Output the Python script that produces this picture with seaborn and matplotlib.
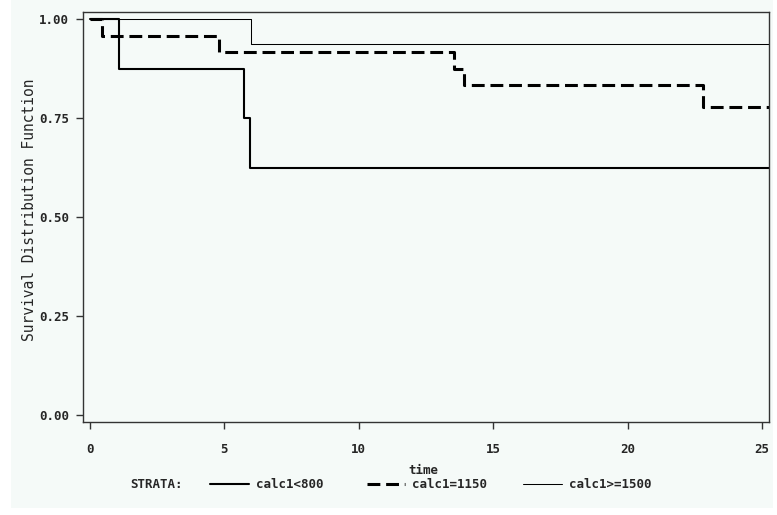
import numpy as np
import pandas as pd
import seaborn as sns
import matplotlib
matplotlib.use("Agg")
import matplotlib.pyplot as plt
from matplotlib.lines import Line2D
from matplotlib.patches import Rectangle

# ---- data (Kaplan-Meier step estimates) ----
strata = ["calc1<800", "calc1=1150", "calc1>=1500"]
time_800 = [0.0, 1.08, 5.73, 5.97, 25.3]
surv_800 = [1.0, 0.875, 0.75, 0.625, 0.625]
time_1150 = [0.0, 0.44, 4.79, 13.56, 13.9, 22.8, 25.3]
surv_1150 = [1.0, 0.958, 0.917, 0.875, 0.833, 0.777, 0.777]
time_1500 = [0.0, 6.0, 25.3]
surv_1500 = [1.0, 0.9375, 0.9375]
x_ticks = [0, 5, 10, 15, 20, 25]
y_ticks = [0.0, 0.25, 0.5, 0.75, 1.0]
y_ticklabels = ["0.00", "0.25", "0.50", "0.75", "1.00"]

df = pd.concat([
    pd.DataFrame({"time": time_800, "surv": surv_800, "STRATA": strata[0]}),
    pd.DataFrame({"time": time_1150, "surv": surv_1150, "STRATA": strata[1]}),
    pd.DataFrame({"time": time_1500, "surv": surv_1500, "STRATA": strata[2]}),
])

sns.set_style("ticks")
mono = "DejaVu Sans Mono"
plt.rcParams["font.family"] = [mono]

BG = "#f5faf8"
W, H = 777, 515
fig = plt.figure(figsize=(W / 100, H / 100), dpi=100, facecolor="white")
fig.add_artist(Rectangle((11 / W, 1 - 508 / H), (773 - 11) / W, 508 / H,
                         transform=fig.transFigure, facecolor=BG,
                         edgecolor="none", zorder=-10))

ax = fig.add_axes([83 / W, 1 - 422 / H, (769 - 83) / W, (422 - 12) / H])
ax.set_facecolor(BG)

styles = {
    strata[0]: dict(lw=1.5, ls="-"),
    strata[1]: dict(lw=2.2, ls=(0, (4.2, 1.9))),
    strata[2]: dict(lw=0.75, ls="-"),
}
for s in strata:
    sub = df[df["STRATA"] == s]
    sns.lineplot(data=sub, x="time", y="surv", ax=ax, drawstyle="steps-post",
                 color="black", sort=False, estimator=None,
                 linewidth=styles[s]["lw"], linestyle=styles[s]["ls"])

for sp in ax.spines.values():
    sp.set_visible(True)
    sp.set_linewidth(1.0)
    sp.set_color("#333333")

ax.set_xlim(-0.26, 25.26)
ax.set_ylim(-0.018, 1.018)
ax.set_xticks(x_ticks)
ax.set_xticklabels([str(t) for t in x_ticks], fontweight="bold", fontsize=9)
ax.set_yticks(y_ticks)
ax.set_yticklabels(y_ticklabels, fontweight="bold", fontsize=9)
ax.tick_params(axis="both", direction="out", length=5, width=1, color="#333333")
ax.tick_params(axis="x", pad=10)
ax.tick_params(axis="y", pad=5)

ax.set_xlabel("")
ax.set_ylabel("")
fig.text(423 / W, 1 - 470 / H, "time", ha="center", va="center",
         fontsize=9, fontweight="bold")
fig.text(30 / W, 1 - 210 / H, "Survival Distribution Function", rotation=90,
         ha="center", va="center", fontsize=10.5)

# legend
ly = 1 - 484 / H
fig.text(130 / W, ly, "STRATA:", ha="left", va="center", fontsize=9, fontweight="bold")
samples = [(210, 249, 256), (367, 405, 412), (523, 562, 569)]
for s, (x0, x1, xt) in zip(strata, samples):
    fig.add_artist(Line2D([x0 / W, x1 / W], [ly, ly], transform=fig.transFigure,
                          color="black", linewidth=styles[s]["lw"],
                          linestyle=styles[s]["ls"]))
    fig.text(xt / W, ly, s, ha="left", va="center", fontsize=9, fontweight="bold")

fig.savefig("out.png", dpi=100, facecolor="white")
